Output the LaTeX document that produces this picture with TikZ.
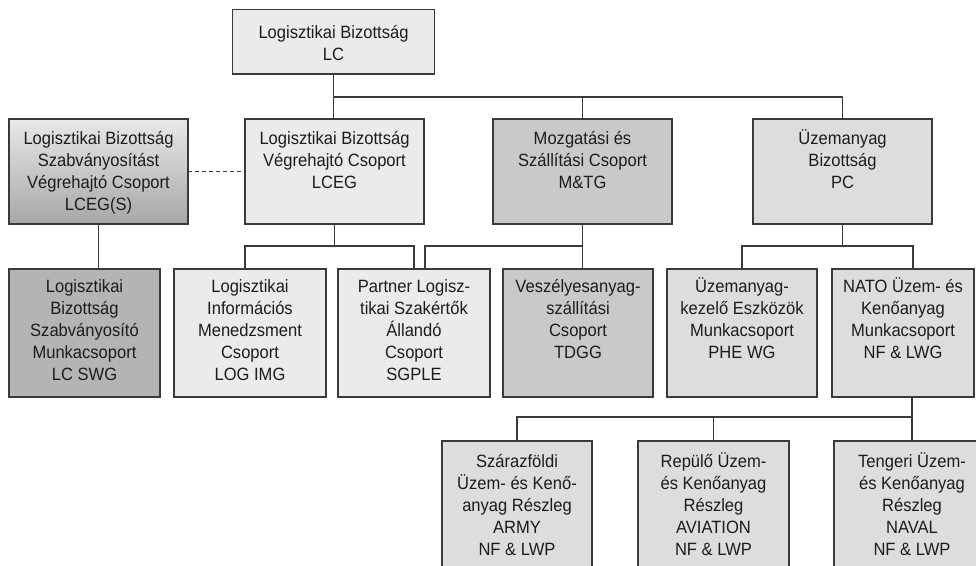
\documentclass[tikz,border=0pt]{standalone}
\usepackage{fontspec}
\setmainfont{Liberation Sans}[FakeStretch=0.93]
\definecolor{lnc}{HTML}{3A3A3A}
\definecolor{txc}{HTML}{1C1C1C}
\definecolor{flight}{HTML}{EBEBEC}
\definecolor{fmid}{HTML}{C8C9CB}
\definecolor{fpc}{HTML}{DCDDDF}
\definecolor{fdark}{HTML}{B3B4B6}
\definecolor{gtop}{HTML}{E8E8E9}
\definecolor{gmid}{HTML}{D6D6D7}
\definecolor{gbot}{HTML}{A6A7A9}
\tikzset{
  orgbox/.style={draw=lnc, line width=1.2pt, outer sep=0pt, inner sep=0pt},
  lightbox/.style={orgbox, fill=flight},
  midbox/.style={orgbox, fill=fmid},
  pcbox/.style={orgbox, fill=fpc},
  darkbox/.style={orgbox, fill=fdark},
  gradbox/.style={orgbox, top color=gtop, middle color=gmid, bottom color=gbot},
  boxtext/.style={font=\fontsize{17.8}{22}\selectfont, align=center, inner sep=0pt, outer sep=0pt, text=txc},
  conn/.style={draw=lnc, line width=1.1pt},
  dashconn/.style={conn, dash pattern=on 4pt off 3pt}
}
\newcommand\orgnode[8]{%
  \node[#2, minimum width={#5-#3}, minimum height={#6-#4}, anchor=north west] (#1) at (#3,#4) {};
  \node[boxtext, anchor=north] (#1t) at ([yshift={-(#7)+3.0}]#1.north) {\strut #8};
}
\begin{document}
\begin{tikzpicture}[x=1pt,y=-1pt]
\useasboundingbox (0,0) rectangle (976,565);
\clip (0,0) rectangle (976,565);
\fill[white] (0,0) rectangle (976,565);

\orgnode{lc}{lightbox}{232.5}{9.5}{434.5}{74}{16.5}{Logisztikai Bizottság\\LC}
\orgnode{lcegs}{gradbox}{9}{119}{188}{224}{13}{Logisztikai Bizottság\\Szabványosítást\\Végrehajtó Csoport\\LCEG(S)}
\orgnode{lceg}{lightbox}{245}{119}{424}{224}{13}{Logisztikai Bizottság\\Végrehajtó Csoport\\LCEG}
\orgnode{mtg}{midbox}{493}{119}{672}{224}{13}{Mozgatási és\\Szállítási Csoport\\M\&TG}
\orgnode{pc}{pcbox}{753}{119}{932}{224}{13}{Üzemanyag\\Bizottság\\PC}

\orgnode{lcswg}{darkbox}{9}{269}{160}{397}{11}{Logisztikai\\Bizottság\\Szabványosító\\Munkacsoport\\LC SWG}
\orgnode{logimg}{lightbox}{174}{269}{326}{397}{11}{Logisztikai\\Információs\\Menedzsment\\Csoport\\LOG IMG}
\orgnode{sgple}{lightbox}{338}{269}{490}{397}{11}{Partner Logisz-\\tikai Szakértők\\Állandó\\Csoport\\SGPLE}
\orgnode{tdgg}{midbox}{503}{269}{653}{397}{11}{Veszélyesanyag-\\szállítási\\Csoport\\TDGG}
\orgnode{phewg}{pcbox}{667}{269}{817}{397}{11}{Üzemanyag-\\kezelő Eszközök\\Munkacsoport\\PHE WG}
\orgnode{nflwg}{pcbox}{832}{269}{974}{397}{11}{NATO Üzem- és\\Kenőanyag\\Munkacsoport\\NF \& LWG}

\orgnode{army}{pcbox}{442}{441}{592}{600}{14}{Szárazföldi\\Üzem- és Kenő-\\anyag Részleg\\ARMY\\NF \& LWP}
\orgnode{aviation}{pcbox}{638}{441}{789}{600}{14}{Repülő Üzem-\\és Kenőanyag\\Részleg\\AVIATION\\NF \& LWP}
\orgnode{naval}{pcbox}{834}{441}{990}{600}{14}{Tengeri Üzem-\\és Kenőanyag\\Részleg\\NAVAL\\NF \& LWP}

% connectors
\draw[conn] (lc.south) -- (lc.south |- lceg.north);
\draw[conn] (lc.south) ++(0,23) -| (mtg.north);
\draw[conn] (lc.south) ++(0,23) -| (pc.north);
\draw[dashconn] (lcegs.east) -- (lceg.west);
\draw[conn] (lcegs.south) -- (lcegs.south |- lcswg.north);
\draw[conn] (lceg.south) -- ++(0,22) -| ([xshift=-5pt]logimg.north);
\draw[conn] (lceg.south) ++(0,22) -| (sgple.north);
\draw[conn] (mtg.south) -- (mtg.south |- tdgg.north);
\draw[conn] (mtg.south) ++(0,22) -| ([xshift=11pt]sgple.north);
\draw[conn] (pc.south) -- ++(0,22) -| (phewg.north);
\draw[conn] (pc.south) ++(0,22) -| ([xshift=10pt]nflwg.north);
\draw[conn] ([xshift=9pt]nflwg.south) -- ([xshift=9pt]nflwg.south |- naval.north);
\draw[conn] ([xshift=9pt]nflwg.south) ++(0,20) -| (army.north);
\draw[conn] ([xshift=9pt]nflwg.south) ++(0,20) -| (aviation.north);
\end{tikzpicture}
\end{document}
